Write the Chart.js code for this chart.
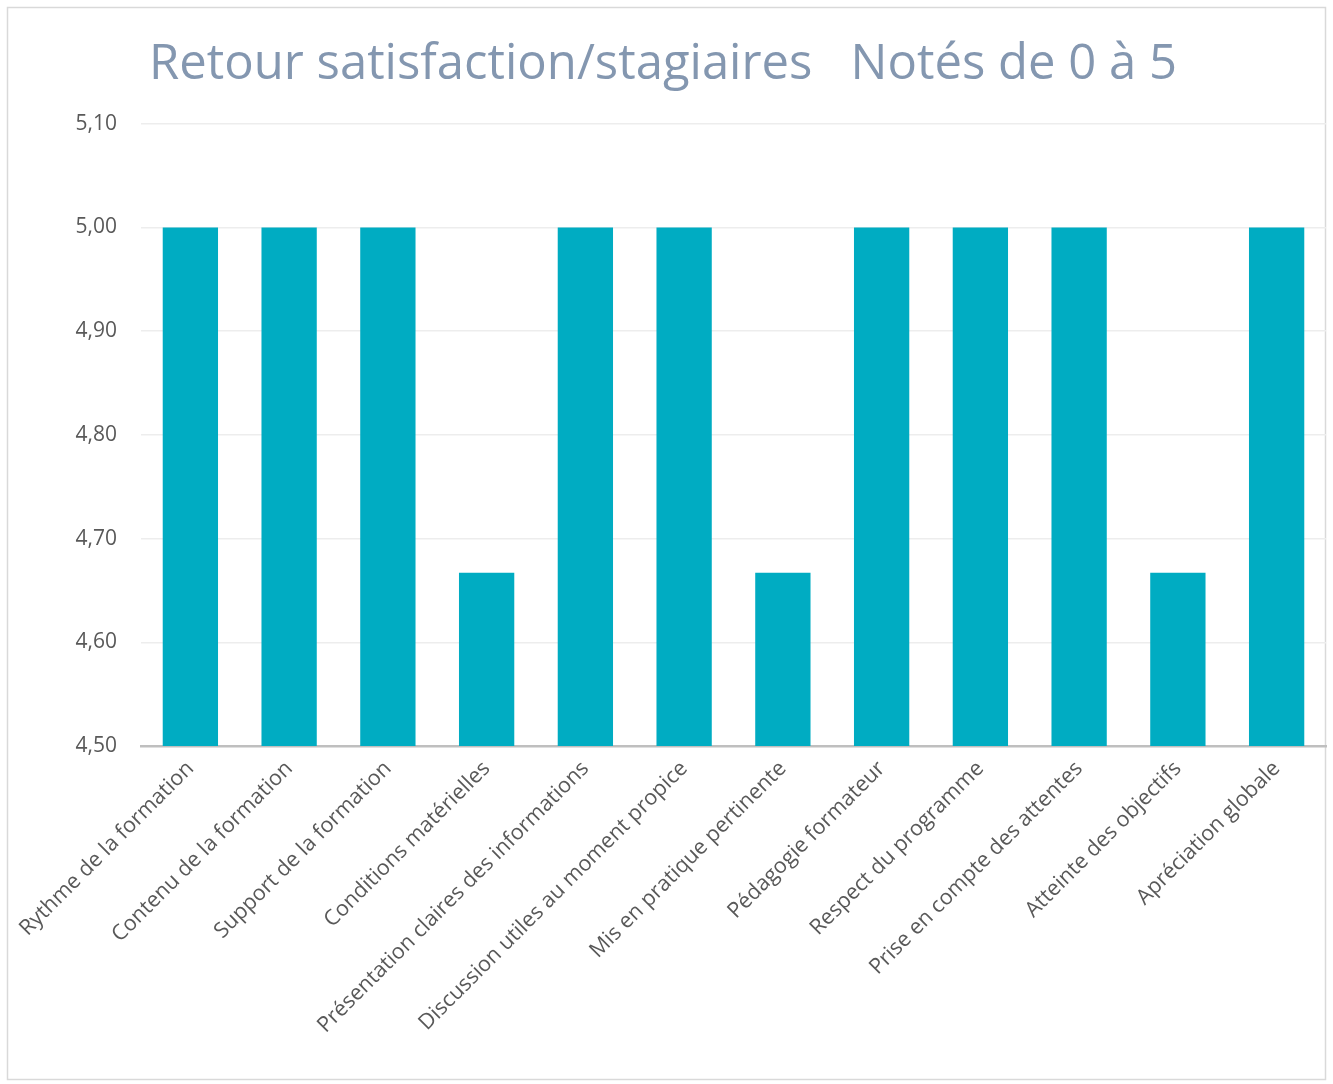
<!DOCTYPE html>
<html>
<head>
<meta charset="utf-8">
<script src="https://cdn.jsdelivr.net/npm/chart.js@4.4.1/dist/chart.umd.min.js"></script>
<style>
html,body{margin:0;padding:0;background:#fff;}
#wrap{position:relative;width:1333px;height:1084px;}
</style>
</head>
<body>
<div id="wrap"><canvas id="c" width="1333" height="1084"></canvas></div>
<script>
const titleText = "Retour satisfaction/stagiaires   Notés de 0 à 5";
const categories = [
  "Rythme de la formation",
  "Contenu de la formation",
  "Support de la formation",
  "Conditions matérielles",
  "Présentation claires des informations",
  "Discussion utiles au moment propice",
  "Mis en pratique pertinente",
  "Pédagogie formateur",
  "Respect du programme",
  "Prise en compte des attentes",
  "Atteinte des objectifs",
  "Apréciation globale"
];
const scores = [5, 5, 5, 4.667, 5, 5, 4.667, 5, 5, 5, 4.667, 5];
const yMin = 4.5, yMax = 5.1, yStep = 0.1;

const frame = {
  id: 'frame',
  beforeDraw(chart) {
    const ctx = chart.ctx;
    ctx.save();
    ctx.fillStyle = '#fff';
    ctx.fillRect(0, 0, chart.width, chart.height);
    ctx.strokeStyle = '#D9D9D9';
    ctx.lineWidth = 1.5;
    ctx.strokeRect(7.5, 7.5, 1318, 1072);
    ctx.restore();
  }
};

new Chart(document.getElementById('c'), {
  type: 'bar',
  data: {
    labels: categories,
    datasets: [{
      data: scores,
      backgroundColor: '#00ACC2',
      categoryPercentage: 1,
      barPercentage: 0.56
    }]
  },
  options: {
    responsive: false,
    animation: false,
    layout: { padding: { left: 0, right: 7, top: 0, bottom: 0 } },
    plugins: {
      legend: { display: false },
      tooltip: { enabled: false },
      title: {
        display: true,
        text: titleText,
        color: '#8497B0',
        font: { family: 'Open Sans', size: 49, weight: 'normal' },
        padding: { top: 36, bottom: 29 }
      }
    },
    scales: {
      x: {
        grid: { display: false, drawTicks: false },
        border: { display: true, color: '#BFBFBF', width: 2.5 },
        ticks: {
          autoSkip: false,
          maxRotation: 45,
          minRotation: 45,
          padding: 10,
          color: '#595959',
          font: { family: 'Open Sans', size: 21.5 }
        },
        afterFit(s) { s.height = 338; }
      },
      y: {
        min: yMin,
        max: yMax,
        grid: { color: '#EDEDED', lineWidth: 1.5, drawTicks: false },
        border: { display: false },
        ticks: {
          stepSize: yStep,
          padding: 24,
          color: '#595959',
          font: { family: 'Open Sans', size: 21 },
          callback: v => Number(v).toFixed(2).replace('.', ',')
        },
        afterFit(s) { s.width = 141; }
      }
    }
  },
  plugins: [frame]
});
</script>
</body>
</html>
